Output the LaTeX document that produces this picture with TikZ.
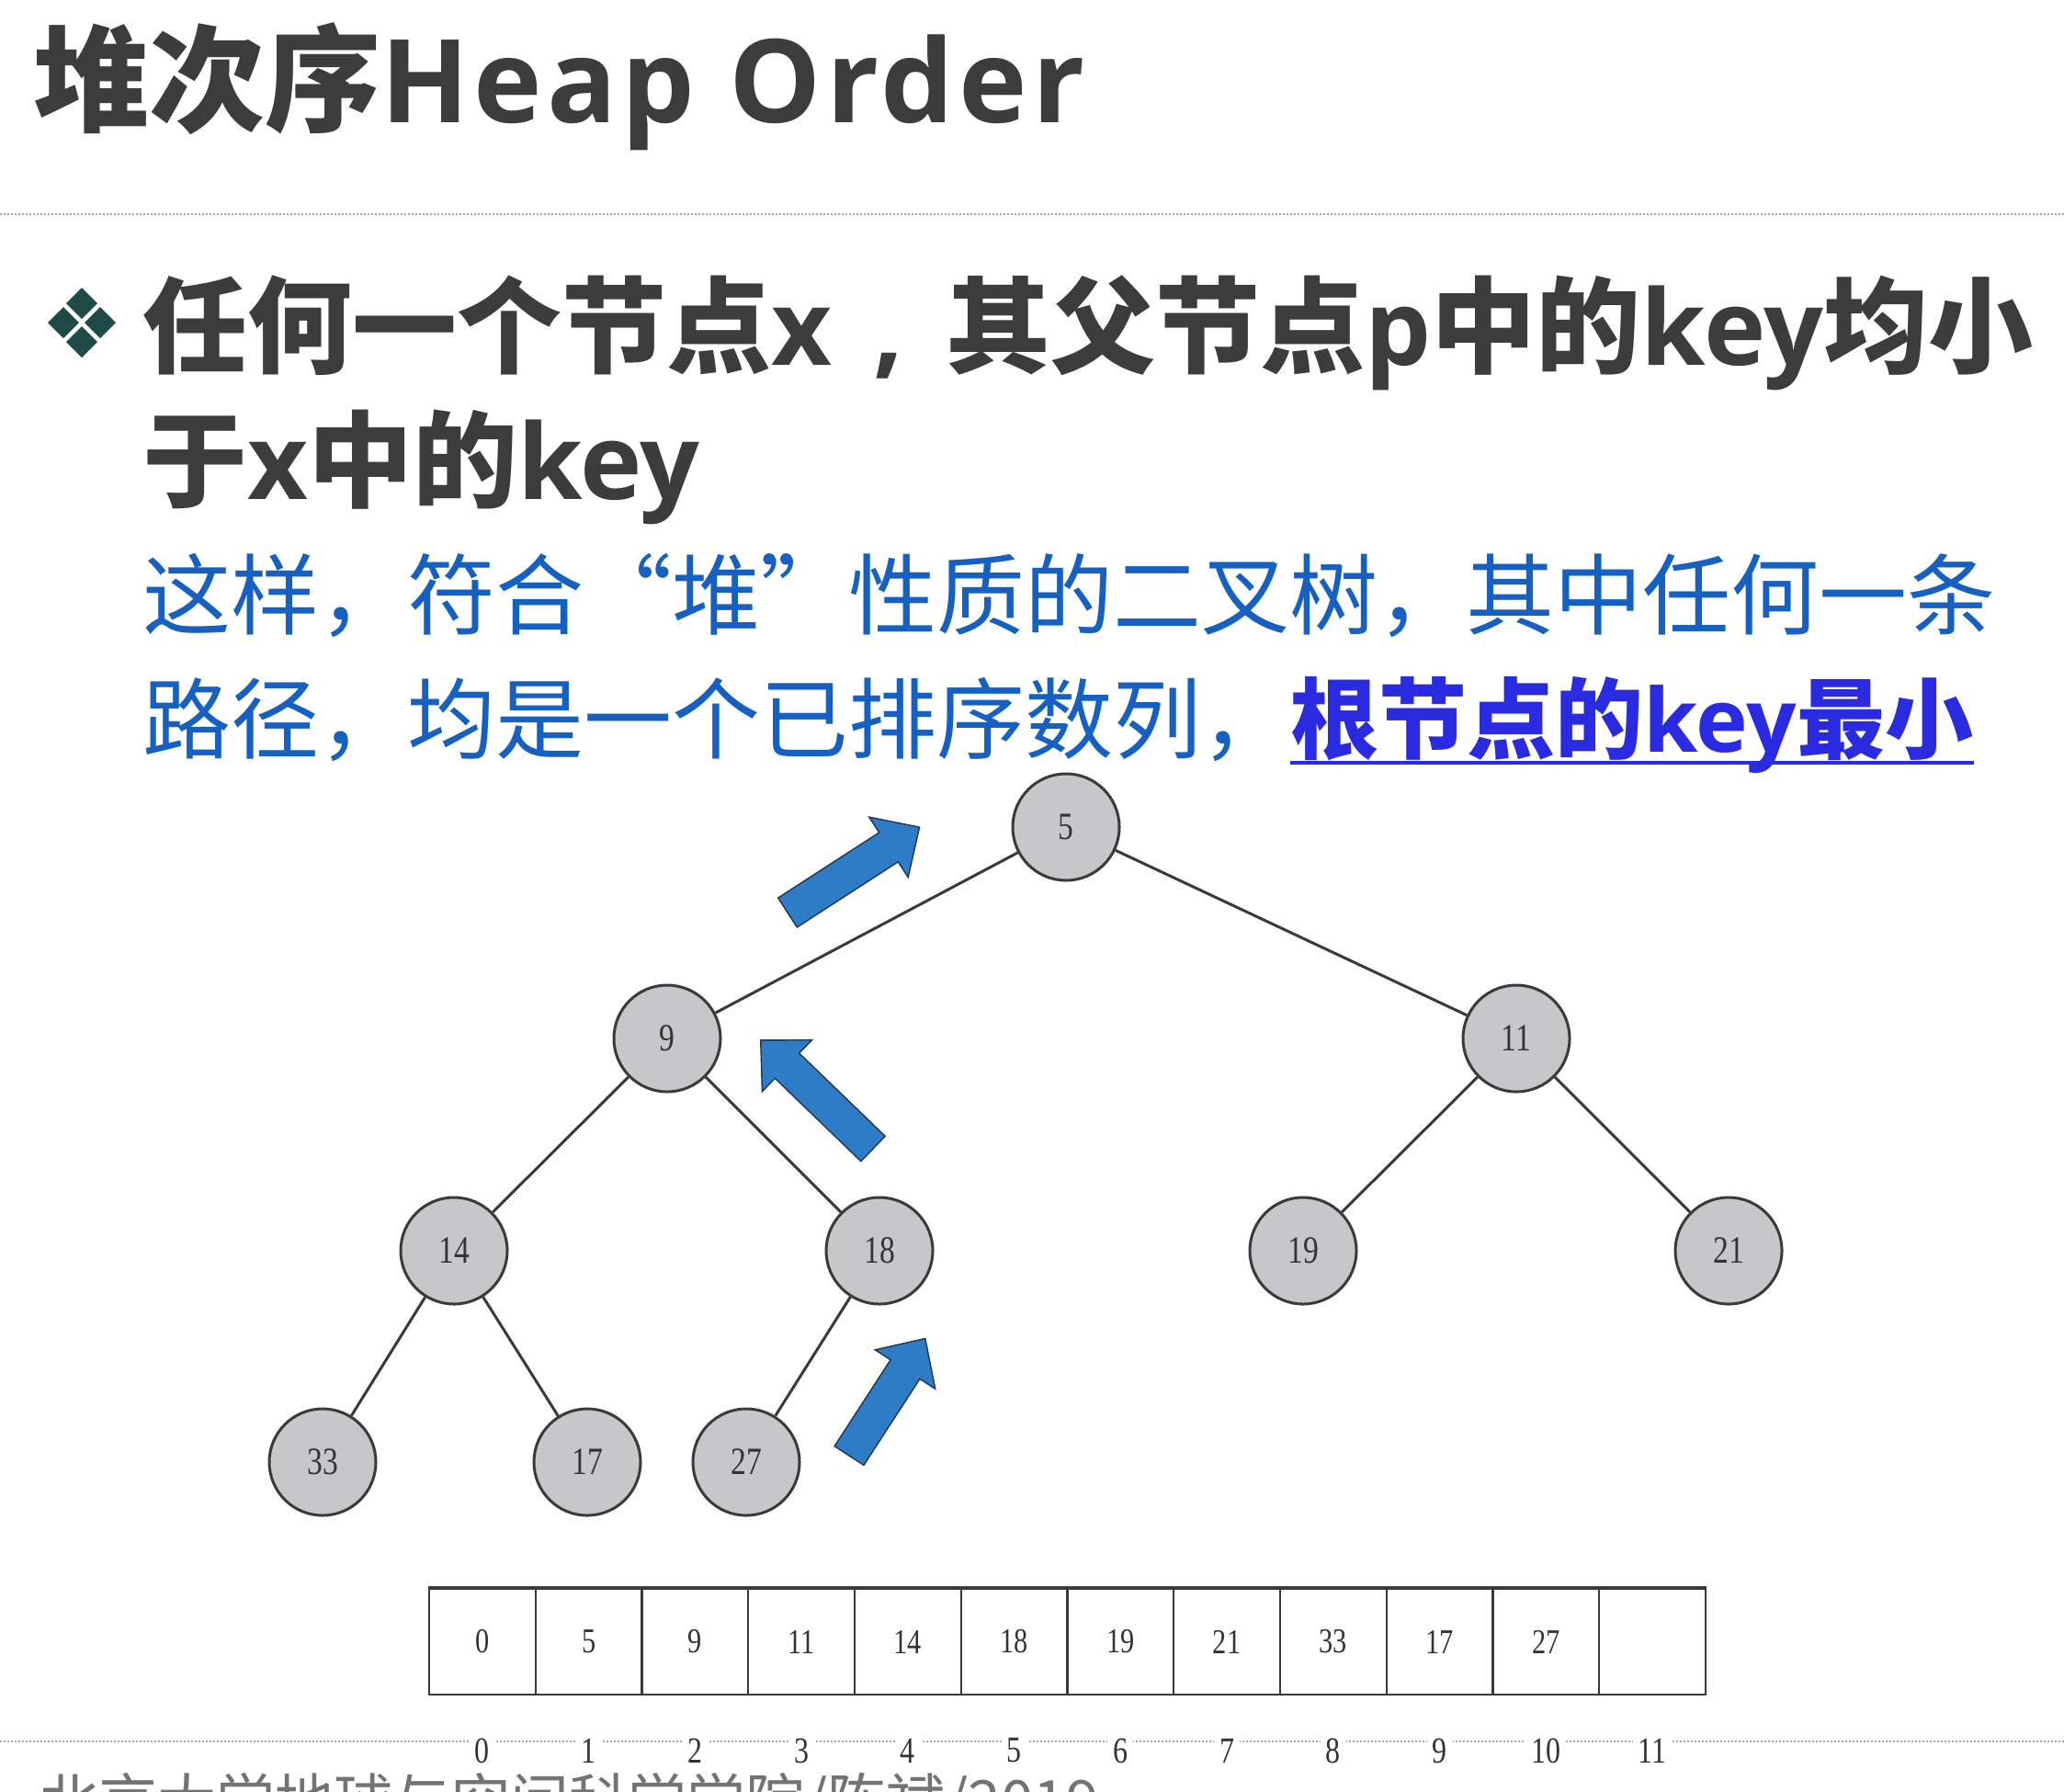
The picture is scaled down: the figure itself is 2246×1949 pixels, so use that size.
\documentclass[tikz,border=0pt]{standalone}
\usepackage{fontspec}
\usepackage{graphicx}
\usetikzlibrary{calc}
\setmainfont{Liberation Serif}
\newfontfamily\cjk{Noto Sans CJK SC}
\newfontfamily\latsans{Open Sans}
\newfontfamily\latwide[LetterSpace=4]{Open Sans}

\definecolor{titlegray}{HTML}{3C3C3C}
\definecolor{kblue}{HTML}{1560C0}
\definecolor{ublue}{HTML}{2A2AE0}
\definecolor{arrowfill}{HTML}{2F7CC6}
\definecolor{arrowedge}{HTML}{1F3550}
\definecolor{nodefill}{HTML}{C5C7C9}
\definecolor{nodeedge}{HTML}{3A3A3A}
\definecolor{bulletteal}{HTML}{1E4B48}
\definecolor{digitgray}{HTML}{333333}

% condensed digits used in the tree and the array
\newcommand\cdig[1]{\scalebox{0.8}[1]{#1}}
% block arrow: tail x, tail y, direction angle, length
\newcommand\blockarrow[4]{%
  \filldraw[arrowfill, draw=arrowedge, line width=0.7pt, shift={(#1,#2)}, rotate=#3]
    (0,-19) -- (#4-40,-19) -- (#4-40,-39) -- (#4,0) -- (#4-40,39) -- (#4-40,19) -- (0,19) -- cycle;}

\begin{document}
\begin{tikzpicture}[x=0.5pt,y=-0.5pt,
  textline/.style={anchor=base west, inner sep=0pt},
  hnode/.style={circle, draw=nodeedge, fill=nodefill, line width=1.5pt,
    minimum size=58pt, inner sep=0pt, text=digitgray, font=\fontsize{21}{21}\selectfont},
  edge/.style={draw=nodeedge, line width=1.5pt},
  cellbox/.style={rectangle, draw=nodeedge, line width=1.1pt, minimum width=57.875pt,
    minimum height=57.5pt, inner sep=0pt, text=digitgray, font=\fontsize{19}{19}\selectfont},
  idx/.style={fill=white, inner xsep=3pt, inner ysep=1pt, text=digitgray, font=\fontsize{20}{20}\selectfont},
  dotline/.style={draw=black!35, line width=1.2pt, dash pattern=on 0.8pt off 1.2pt}]

\useasboundingbox (0,0) rectangle (2246,1949);
\fill[white] (0,0) rectangle (2246,1949);

% heading and rule
\node[textline, text=titlegray] (title) at (36,133)
  {\fontsize{63}{70}\selectfont\bfseries{\cjk 堆次序}{\latwide Heap Order}};
\draw[dotline] (0,233) -- (2246,233);

% bullet mark
\begin{scope}[shift={(89,351)}]
  \foreach \dx/\dy in {-20/0, 20/0, 0/-21, 0/21}
    \fill[bulletteal] (\dx-17,\dy) -- (\dx,\dy-17) -- (\dx+17,\dy) -- (\dx,\dy+17) -- cycle;
\end{scope}

% bullet text
\node[textline, text=titlegray] (l1) at (155,397)
  {\fontsize{57}{60}\selectfont\bfseries\cjk 任何一个节点{\latsans x\hspace{0.4em},\hspace{0.4em}}其父节点{\latsans p}中的{\latsans key}均小};
\node[textline, text=titlegray] (l2) at (155,543)
  {\fontsize{57}{60}\selectfont\bfseries\cjk 于{\latsans x}中的{\latsans key}};

% remark in blue
\node[textline, text=kblue] (b1) at (155,683)
  {\fontsize{48}{50}\selectfont\cjk 这样，符合\makebox[1em][r]{“}堆\makebox[1em][l]{”}性质的二叉树，其中任何一条};
\node[textline, text=kblue] (b2) at (155,818)
  {\fontsize{48}{50}\selectfont\cjk 路径，均是一个已排序数列，};
\node[textline, text=ublue] (b3) at (b2.base east)
  {\fontsize{48}{50}\selectfont\bfseries\cjk 根节点的{\latsans key}最小};
\draw[ublue, line width=1.6pt] ($(b3.base west)+(0,12)$) -- ($(b3.base east)+(0,12)$);

% heap tree
\node[hnode] (n5)  at (1160,900)  {\cdig{5}};
\node[hnode] (n9)  at (726,1130)  {\cdig{9}};
\node[hnode] (n11) at (1650,1130) {\cdig{11}};
\node[hnode] (n14) at (494,1361)  {\cdig{14}};
\node[hnode] (n18) at (957,1361)  {\cdig{18}};
\node[hnode] (n19) at (1418,1361) {\cdig{19}};
\node[hnode] (n21) at (1881,1361) {\cdig{21}};
\node[hnode] (n33) at (351,1591)  {\cdig{33}};
\node[hnode] (n17) at (639,1591)  {\cdig{17}};
\node[hnode] (n27) at (812,1591)  {\cdig{27}};

\foreach \a/\b in {n5/n9, n5/n11, n9/n14, n9/n18, n11/n19, n11/n21, n14/n33, n14/n17, n18/n27}
  \draw[edge] (\a) -- (\b);

% upward arrows along the path 27 - 18 - 9 - 5
\blockarrow{857}{993}{32.9}{171}
\blockarrow{950}{1250}{136}{170}
\blockarrow{924}{1584}{57}{152}

% array storage
\draw[dotline] (0,1895) -- (2246,1895);
\foreach \v [count=\i from 0] in {0,5,9,11,14,18,19,21,33,17,27,{}} {
  \node[cellbox] (c\i) at ({467+115.75*\i+57.875},1786.5) {\cdig{\v}};
  \node[idx] (i\i) at ({467+115.75*\i+57.875},1905) {\cdig{\i}};
}
\draw[nodeedge, line width=2pt] (c0.north west) -- (c11.north east);

% footer
\begin{scope}
  \clip (0,0) rectangle (2246,1949);
  \node[textline, text=black!55] (foot) at (43,1983)
    {\fontsize{32}{34}\selectfont\cjk 北京大学地球与空间科学学院/陈斌/2019};
\end{scope}
\end{tikzpicture}
\end{document}
